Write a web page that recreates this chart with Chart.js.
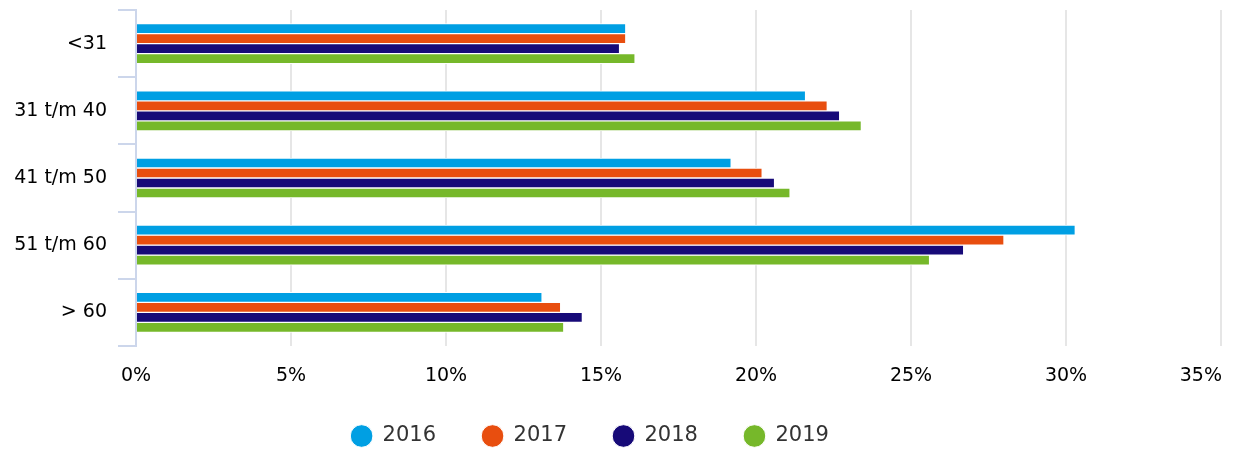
<!DOCTYPE html>
<html>
<head>
<meta charset="utf-8">
<script src="https://cdn.jsdelivr.net/npm/chart.js@4"></script>
<style>
  body { margin: 0; background: #fff; }
</style>
</head>
<body>
<canvas id="ageChart" width="1234" height="453"></canvas>
<script>
const categories = ["<31", "31 t/m 40", "41 t/m 50", "51 t/m 60", "> 60"];
const years = ["2016", "2017", "2018", "2019"];
const values2016 = [15.8, 21.6, 19.2, 30.3, 13.1];
const values2017 = [15.8, 22.3, 20.2, 28.0, 13.7];
const values2018 = [15.6, 22.7, 20.6, 26.7, 14.4];
const values2019 = [16.1, 23.4, 21.1, 25.6, 13.8];
const xMax = 35;
const xStep = 5;

const colors = ["#009fe3", "#e84e0f", "#170a78", "#76b82a"];
const font = "'DejaVu Sans', Verdana, sans-serif";

// last x label is pulled inside the plot, legend nudged into place
const tweaks = {
  id: "tweaks",
  afterLayout(chart) {
    chart.legend.right -= 41;
    chart.legend.top = 379.5;
  },
  afterDraw(chart) {
    const scale = chart.scales.x;
    const ctx = chart.ctx;
    ctx.save();
    ctx.font = "19px " + font;
    ctx.fillStyle = "#000";
    ctx.textAlign = "right";
    ctx.textBaseline = "middle";
    ctx.fillText(xMax + "%", scale.getPixelForValue(xMax) + 1, scale.top + 20.5 + 9.5);
    ctx.restore();
  },
};

const ctx = document.getElementById("ageChart").getContext("2d");
const chart = new Chart(ctx, {
  type: "bar",
  data: {
    labels: categories,
    datasets: [values2016, values2017, values2018, values2019].map((data, i) => ({
      label: years[i],
      data: data,
      backgroundColor: colors[i],
      borderColor: "#ffffff",
      borderWidth: 1,
      borderSkipped: "start",
      barThickness: 10,
    })),
  },
  options: {
    indexAxis: "y",
    responsive: false,
    animation: false,
    layout: {
      padding: { top: 10, right: 13, left: 0, bottom: 0 },
    },
    plugins: {
      tooltip: { enabled: false },
      legend: {
        position: "bottom",
        maxHeight: 67.5,
        labels: {
          usePointStyle: true,
          pointStyle: "circle",
          boxWidth: 21,
          boxHeight: 16,
          padding: 46,
          color: "#333",
          font: { family: font, size: 21 },
        },
      },
    },
    scales: {
      x: {
        min: 0,
        max: xMax,
        ticks: {
          stepSize: xStep,
          padding: 20.5,
          color: "#000",
          font: { family: font, size: 19, lineHeight: 1 },
          callback: (v) => (v === xMax ? "" : v + "%"),
        },
        grid: {
          color: "#e6e6e6",
          lineWidth: 2,
          drawTicks: false,
        },
        border: { display: false },
        afterFit: (scale) => {
          scale.height = 39.5;
          scale.paddingLeft = 0;
          scale.paddingRight = 0;
        },
      },
      y: {
        ticks: {
          padding: 11,
          color: "#000",
          font: { family: font, size: 19 },
        },
        grid: {
          offset: true,
          drawOnChartArea: false,
          color: "#ccd6eb",
          lineWidth: 2,
          tickLength: 18,
        },
        border: { color: "#ccd6eb", width: 2 },
        afterFit: (scale) => {
          scale.width = 136;
          scale.paddingTop = 0;
          scale.paddingBottom = 0;
        },
      },
    },
  },
  plugins: [tweaks],
});
</script>
</body>
</html>
